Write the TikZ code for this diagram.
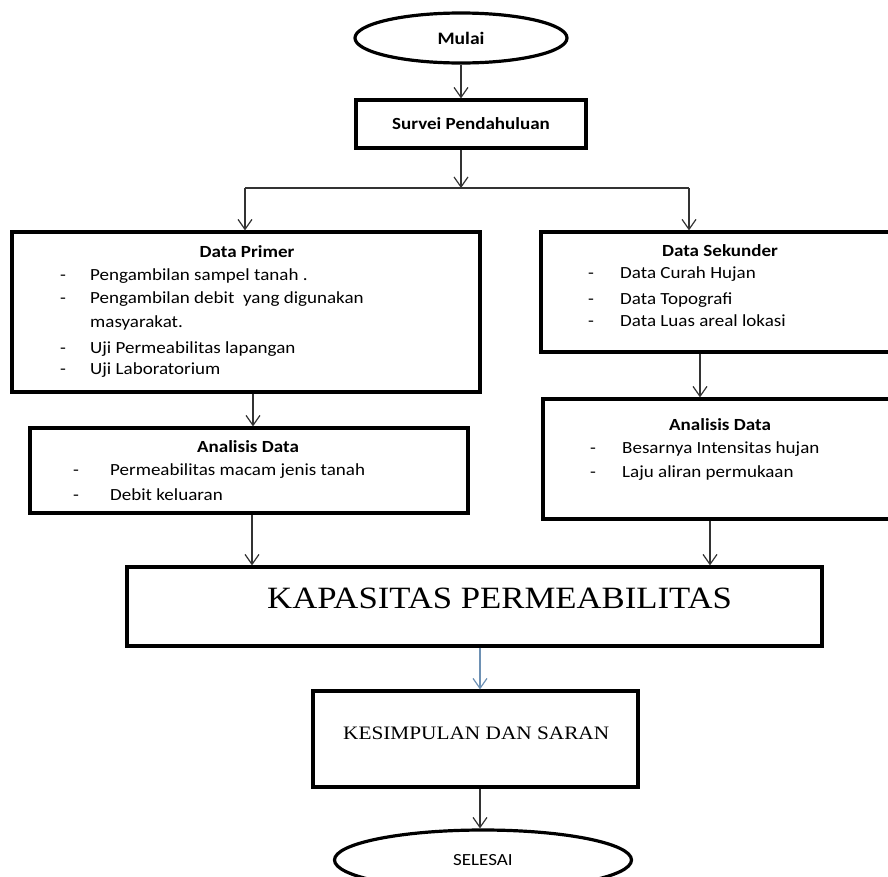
\documentclass[tikz,border=0pt]{standalone}
\usepackage{fontspec}
\setmainfont{Carlito}[FakeStretch=1.12]
\newfontfamily\timesf{Liberation Serif}[FakeStretch=1.12]
\usetikzlibrary{arrows.meta,shapes.geometric}
\definecolor{bluearr}{RGB}{110,145,180}
\begin{document}
\begin{tikzpicture}[x=1pt,y=-1pt,
  boxst/.style={draw, line width=3.2pt, inner sep=0pt, rectangle},
  ellst/.style={draw, line width=3.2pt, ellipse, inner sep=0pt},
  arr/.style={draw=black!80, line width=1.2pt, -{Straight Barb[length=10pt,width=14pt]}},
  conn/.style={draw=black!80, line width=1.2pt},
  txt/.style={inner sep=0pt, anchor=base west, font=\fontsize{17}{20}\selectfont},
  ttl/.style={inner sep=0pt, anchor=base, font=\fontsize{17}{20}\selectfont\bfseries},
]
\useasboundingbox (0,0) rectangle (888,876);
\clip (0,0) rectangle (888,876);

% shapes
\node[ellst, minimum width=212pt, minimum height=50pt, font=\fontsize{17.5}{20}\selectfont\bfseries] (mulai) at (461,38) {Mulai};
\node[boxst, minimum width=230pt, minimum height=48pt, font=\fontsize{17}{20}\selectfont\bfseries] (survei) at (471,124) {Survei Pendahuluan};
\node[boxst, minimum width=468pt, minimum height=160pt] (primer) at (246,312) {};
\node[boxst, minimum width=358pt, minimum height=120pt] (sekunder) at (720,292) {};
\node[boxst, minimum width=438pt, minimum height=85pt] (anaL) at (249,470.5) {};
\node[boxst, minimum width=354pt, minimum height=120pt] (anaR) at (720,459) {};
\node[boxst, minimum width=695pt, minimum height=79pt] (kap) at (474.5,606.5) {};
\node[boxst, minimum width=325pt, minimum height=96pt] (kes) at (475.5,739) {};
\node[ellst, minimum width=297pt, minimum height=60pt, font=\fontsize{17}{20}\selectfont] (selesai) at (483,860) {SELESAI};

% Data Primer texts
\node[ttl] (tPrimer) at (247,257) {Data Primer};
\node[txt] (dp1) at (60,280) {-};
\node[txt] (p1) at (90,280) {Pengambilan sampel tanah .};
\node[txt] (dp2) at (60,303) {-};
\node[txt] (p2) at (90,303) {Pengambilan debit\ \ yang digunakan};
\node[txt] (p3) at (90,327) {masyarakat.};
\node[txt] (dp4) at (60,353) {-};
\node[txt] (p4) at (90,353) {Uji Permeabilitas lapangan};
\node[txt] (dp5) at (60,374) {-};
\node[txt] (p5) at (90,374) {Uji Laboratorium};

% Data Sekunder texts
\node[ttl] (tSek) at (720,256) {Data Sekunder};
\node[txt] (ds1) at (588,278) {-};
\node[txt] (s1) at (620,278) {Data Curah Hujan};
\node[txt] (ds2) at (588,304) {-};
\node[txt] (s2) at (620,304) {Data Topografi};
\node[txt] (ds3) at (588,326) {-};
\node[txt] (s3) at (620,326) {Data Luas areal lokasi};

% Analisis Data left
\node[ttl] (tAnaL) at (248,452) {Analisis Data};
\node[txt] (dl1) at (73,475) {-};
\node[txt] (l1) at (110,475) {Permeabilitas macam jenis tanah};
\node[txt] (dl2) at (73,500) {-};
\node[txt] (l2) at (110,500) {Debit keluaran};

% Analisis Data right
\node[ttl] (tAnaR) at (720,430) {Analisis Data};
\node[txt] (dr1) at (590,453) {-};
\node[txt] (r1) at (622,453) {Besarnya Intensitas hujan};
\node[txt] (dr2) at (590,477) {-};
\node[txt] (r2) at (622,477) {Laju aliran permukaan};

% big texts
\node[inner sep=0pt, anchor=base west, font=\timesf\fontsize{31}{34}\selectfont] (tKap) at (267,608) {KAPASITAS PERMEABILITAS};
\node[inner sep=0pt, anchor=base west, font=\timesf\fontsize{19}{22}\selectfont] (tKes) at (343,739) {KESIMPULAN DAN SARAN};

% connectors
\coordinate (jc) at (461,188);
\coordinate (jl) at (245,188);
\coordinate (jr) at (689,188);
\coordinate (c1) at (253,0);
\coordinate (c2) at (700,0);
\coordinate (c3) at (252,0);
\coordinate (c4) at (710,0);
\coordinate (c5) at (480,0);
\draw[arr] (mulai.south) -- (mulai.south |- survei.north);
\draw[arr] (survei.south -| jc) -- (jc);
\draw[conn] (jl) -- (jr);
\draw[arr] (jl) -- (jl |- primer.north);
\draw[arr] (jr) -- (jr |- sekunder.north);
\draw[arr] (c1 |- primer.south) -- (c1 |- anaL.north);
\draw[arr] (c2 |- sekunder.south) -- (c2 |- anaR.north);
\draw[arr] (c3 |- anaL.south) -- (c3 |- kap.north);
\draw[arr] (c4 |- anaR.south) -- (c4 |- kap.north);
\draw[arr, draw=bluearr] (c5 |- kap.south) -- (c5 |- kes.north);
\draw[arr] (c5 |- kes.south) -- (c5 |- selesai.north);
\end{tikzpicture}
\end{document}
